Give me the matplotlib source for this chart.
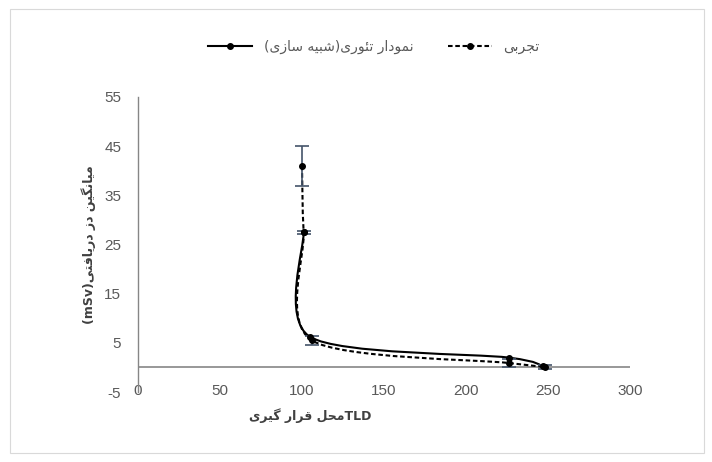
import numpy as np
import matplotlib
matplotlib.use('Agg')
import matplotlib.pyplot as plt
from matplotlib.path import Path
from matplotlib.patches import PathPatch, Rectangle
from matplotlib.lines import Line2D

# experimental (dashed) series
exp_x = [100, 101, 106, 226, 248]
exp_y = [41, 27.5, 5.5, 0.9, 0.1]
exp_err = [4, 0.3, 0.9, 0.8, 0.4]

# theory / simulation (solid) series
theo_x = [101, 105, 226, 247]
theo_y = [27.5, 6.2, 2.0, 0.2]

x_ticks = [0, 50, 100, 150, 200, 250, 300]
y_ticks = [-5, 5, 15, 25, 35, 45, 55]

label_theory = ('نمودار تئوری', 'شبیه سازی')
label_exp = 'تجربی'
x_title = ('محل قرار گیری', 'TLD')
y_title = ('میانگین دز دریافتی', 'mSv')

# --- minimal persian shaping (matplotlib has no bidi / joining) ---
FORMS = {
    'ا': ('\uFE8D', '\uFE8E', None, None),
    'د': ('\uFEA9', '\uFEAA', None, None),
    'ر': ('\uFEAD', '\uFEAE', None, None),
    'ز': ('\uFEAF', '\uFEB0', None, None),
    'و': ('\uFEED', '\uFEEE', None, None),
    'ب': ('\uFE8F', '\uFE90', '\uFE91', '\uFE92'),
    'ت': ('\uFE95', '\uFE96', '\uFE97', '\uFE98'),
    'ج': ('\uFE9D', '\uFE9E', '\uFE9F', '\uFEA0'),
    'ح': ('\uFEA1', '\uFEA2', '\uFEA3', '\uFEA4'),
    'س': ('\uFEB1', '\uFEB2', '\uFEB3', '\uFEB4'),
    'ش': ('\uFEB5', '\uFEB6', '\uFEB7', '\uFEB8'),
    'ف': ('\uFED1', '\uFED2', '\uFED3', '\uFED4'),
    'ق': ('\uFED5', '\uFED6', '\uFED7', '\uFED8'),
    'ل': ('\uFEDD', '\uFEDE', '\uFEDF', '\uFEE0'),
    'م': ('\uFEE1', '\uFEE2', '\uFEE3', '\uFEE4'),
    'ن': ('\uFEE5', '\uFEE6', '\uFEE7', '\uFEE8'),
    'ه': ('\uFEE9', '\uFEEA', '\uFEEB', '\uFEEC'),
    'ئ': ('\uFE89', '\uFE8A', '\uFE8B', '\uFE8C'),
    'ی': ('\uFBFC', '\uFBFD', '\uFBFE', '\uFBFF'),
    'گ': ('\uFB92', '\uFB93', '\uFB94', '\uFB95'),
}


def _dual(c):
    return c in FORMS and FORMS[c][2] is not None


def rtl(text):
    out = []
    for i, c in enumerate(text):
        if c not in FORMS:
            out.append(c)
            continue
        prev = text[i - 1] if i > 0 else ''
        nxt = text[i + 1] if i + 1 < len(text) else ''
        jp = _dual(prev)
        jn = _dual(c) and nxt in FORMS
        iso, fin, ini, med = FORMS[c]
        if jp and jn:
            out.append(med)
        elif jp:
            out.append(fin)
        elif jn:
            out.append(ini)
        else:
            out.append(iso)
    return ''.join(out[::-1])


def smooth_path(xs, ys, k=0.14):
    pts = np.column_stack([xs, ys]).astype(float)
    n = len(pts)
    verts = [pts[0]]
    codes = [Path.MOVETO]
    for i in range(n - 1):
        p0 = pts[i - 1] if i > 0 else pts[i]
        p1 = pts[i]
        p2 = pts[i + 1]
        p3 = pts[i + 2] if i + 2 < n else pts[i + 1]
        c1 = p1 + (p2 - p0) * k
        c2 = p2 - (p3 - p1) * k
        verts += [c1, c2, p2]
        codes += [Path.CURVE4] * 3
    return Path(verts, codes)


plt.rcParams['font.family'] = ['Liberation Sans', 'DejaVu Sans']
plt.rcParams['axes.unicode_minus'] = False
tick_color = '#595959'

fig = plt.figure(figsize=(7.12, 4.62), dpi=100)
fig.patches.append(Rectangle((0.014, 0.02), 0.975, 0.96, transform=fig.transFigure,
                             fill=False, edgecolor='#d9d9d9', linewidth=0.8))
ax = fig.add_axes([138 / 712, 1 - 392 / 462, 492 / 712, 295 / 462])
ax.set_xlim(0, 300)
ax.set_ylim(-5, 55)

# curves
ax.add_patch(PathPatch(smooth_path(theo_x, theo_y), fill=False, edgecolor='black',
                       linewidth=1.5, zorder=3))
ax.add_patch(PathPatch(smooth_path(exp_x, exp_y), fill=False, edgecolor='black',
                       linewidth=1.5, linestyle=(0, (2.2, 1.3)), zorder=3))
ax.errorbar(exp_x, exp_y, yerr=exp_err, fmt='none', ecolor='#44546a',
            elinewidth=1.2, capsize=5, capthick=1.2, zorder=4)
ax.plot(exp_x, exp_y, 'o', color='black', markersize=4, zorder=5)
ax.plot(theo_x, theo_y, 'o', color='black', markersize=4, zorder=5)

# axes styling
for s in ['top', 'right', 'bottom']:
    ax.spines[s].set_visible(False)
ax.spines['left'].set_color('#868686')
ax.spines['left'].set_linewidth(1.0)
ax.axhline(0, color='#868686', linewidth=1.2, zorder=2)
ax.set_xticks(x_ticks)
ax.set_yticks(y_ticks)
ax.tick_params(length=0, labelsize=11, labelcolor=tick_color)
ax.tick_params(axis='x', pad=-5.5)
ax.tick_params(axis='y', pad=12)

# titles
xt = rtl(x_title[0]) + x_title[1]
ax.text(0.35, -0.08, xt, transform=ax.transAxes, ha='center', va='center',
        fontsize=9, fontweight='bold', color='#404040',
        family=['DejaVu Sans'])
yt = '(' + y_title[1] + ')' + rtl(y_title[0])
ax.text(-0.1, 0.5, yt, transform=ax.transAxes, ha='center', va='center',
        rotation=90, fontsize=9, fontweight='bold', color='#404040',
        family=['DejaVu Sans'])

# legend
theo_lbl = '(' + rtl(label_theory[1]) + ')' + rtl(label_theory[0])
exp_lbl = rtl(label_exp)
handles = [
    Line2D([], [], color='black', linewidth=1.5, marker='o', markersize=4),
    Line2D([], [], color='black', linewidth=1.5, linestyle=(0, (2.2, 1.3)),
           marker='o', markersize=4),
]
fig.legend(handles, [theo_lbl, exp_lbl], loc='center', bbox_to_anchor=(0.525, 0.898),
           ncol=2, frameon=False, handlelength=3.2, columnspacing=2.5,
           prop={'family': ['DejaVu Sans'], 'size': 10}, labelcolor=tick_color)

fig.savefig('out.png', dpi=100)
